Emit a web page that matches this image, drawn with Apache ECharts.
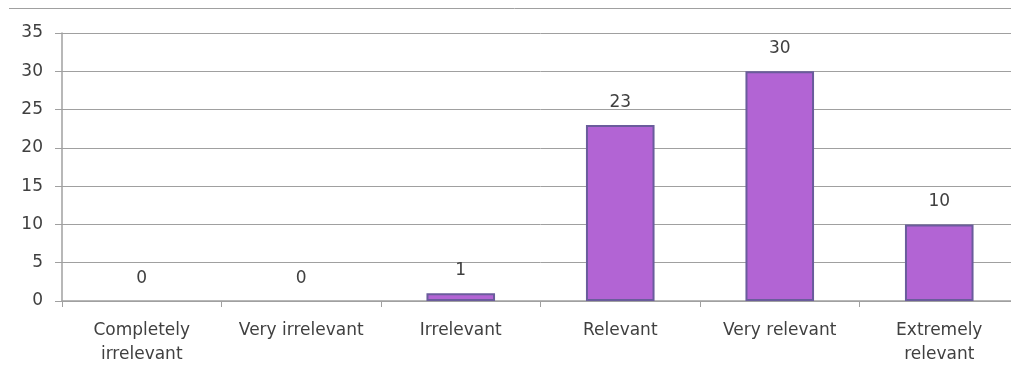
<!DOCTYPE html>
<html>
<head>
<meta charset="utf-8">
<script src="https://cdn.jsdelivr.net/npm/echarts@6/dist/echarts.min.js"></script>
<style>
  html, body { margin: 0; padding: 0; background: #fff; overflow: hidden; }
  /* the plot runs slightly past the right edge of the view */
  #chart { width: 1020px; height: 371px; }
</style>
</head>
<body>
<div id="chart"></div>
<script>
// Survey responses: how relevant each respondent found the topic
const categories = [
  'Completely\nirrelevant',
  'Very irrelevant',
  'Irrelevant',
  'Relevant',
  'Very relevant',
  'Extremely\nrelevant'
];
const counts = [0, 0, 1, 23, 30, 10];
const yTicks = { min: 0, max: 35, interval: 5 };

const textColor = '#404040';
const gridColor = '#a0a0a0';
const fontFamily = '"DejaVu Sans", sans-serif';

const chart = echarts.init(document.getElementById('chart'), null, { renderer: 'canvas' });

// zero-height bars get no outline so only their label shows
const barData = counts.map(v => v === 0
  ? { value: v, itemStyle: { borderWidth: 0 } }
  : { value: v });

chart.setOption({
  animation: false,
  backgroundColor: '#ffffff',
  grid: { left: 62, right: 1, top: 33, bottom: 70, containLabel: false },
  graphic: [{
    type: 'line',
    shape: { x1: 9, y1: 8.5, x2: 1020, y2: 8.5 },
    style: { stroke: gridColor, lineWidth: 1 }
  }],
  xAxis: {
    type: 'category',
    data: categories,
    axisLine: { show: true, lineStyle: { color: gridColor, width: 1.5 } },
    axisTick: { show: true, alignWithLabel: false, length: 6, lineStyle: { color: gridColor } },
    axisLabel: {
      color: textColor, fontFamily: fontFamily, fontSize: 17,
      margin: 18, lineHeight: 24, interval: 0
    },
    splitLine: { show: false }
  },
  yAxis: {
    type: 'value',
    min: yTicks.min, max: yTicks.max, interval: yTicks.interval,
    axisLine: { show: true, lineStyle: { color: gridColor, width: 1.5 } },
    axisTick: { show: true, length: 7, lineStyle: { color: gridColor } },
    axisLabel: { color: textColor, fontFamily: fontFamily, fontSize: 17, margin: 19 },
    splitLine: { show: true, lineStyle: { color: gridColor, width: 1 } }
  },
  series: [{
    type: 'bar',
    data: barData,
    barWidth: '43%',
    itemStyle: { color: '#b264d4', borderColor: '#6a5c9c', borderWidth: 2 },
    label: {
      show: true, position: 'top', distance: 14,
      color: textColor, fontFamily: fontFamily, fontSize: 17
    }
  }]
});
</script>
</body>
</html>
